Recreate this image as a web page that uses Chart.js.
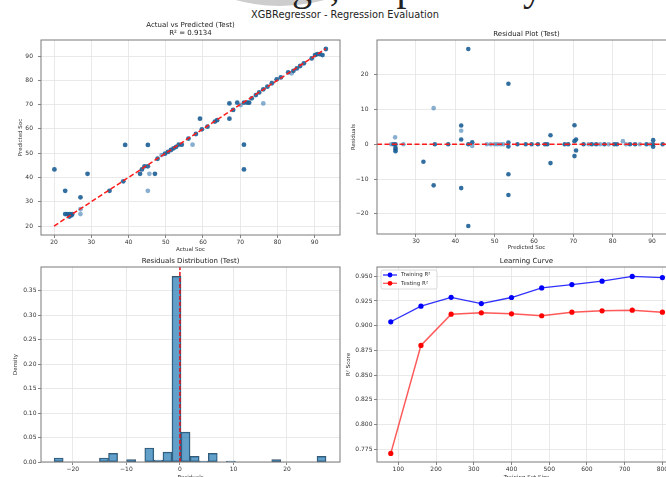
<!DOCTYPE html>
<html>
<head>
<meta charset="utf-8">
<script src="https://cdn.jsdelivr.net/npm/chart.js@4.4.1/dist/chart.umd.min.js"></script>
<style>
  html, body { margin: 0; padding: 0; background: #fff; width: 666px; height: 477px; overflow: hidden; }
  body { position: relative; font-family: 'DejaVu Sans', sans-serif; }
  canvas { position: absolute; }
  #blob { position: absolute; left: 114px; top: -326px; width: 332px; height: 332px; border-radius: 50%; background: #cdcdcd; }
  #pageText { position: absolute; left: 292px; top: -33px; font: 40px/40px 'Liberation Serif', serif; color: #222; white-space: nowrap; }
  #suptitle { position: absolute; left: 0; width: 690px; top: 9px; text-align: center; font-size: 9.8px; line-height: 12px; color: #222; }
</style>
</head>
<body>
<div id="blob"></div>
<div id="pageText">ge, respectively</div>
<div id="suptitle">XGBRegressor - Regression Evaluation</div>
<canvas id="scatterChart" width="345" height="240" style="left:0;top:20px"></canvas>
<canvas id="residualChart" width="345" height="239" style="left:341px;top:20px"></canvas>
<canvas id="histChart" width="345" height="235" style="left:0;top:250px"></canvas>
<canvas id="curveChart" width="345" height="235" style="left:341px;top:250px"></canvas>
<script>
// Actual vs Predicted: [actual, predicted]; "stacked" = several test rows on the same spot
const avpStacked = [
  [20.1, 43.3], [23.0, 34.5], [23.0, 24.9], [23.6, 24.9], [24.3, 24.9], [24.9, 24.9], [24.1, 23.9], [24.7, 24.4],
  [27.1, 31.8], [29.0, 41.5], [34.9, 34.5], [38.6, 38.4], [39.1, 53.4], [43.1, 41.5], [43.6, 43.3], [44.3, 44.6],
  [45.2, 53.4], [45.2, 44.6], [47.1, 41.5], [47.8, 47.7], [49.8, 49.8], [50.6, 50.5], [51.4, 51.3], [52.1, 52.0],
  [52.8, 52.6], [53.5, 53.5], [54.3, 53.5], [56.1, 56.0], [58.1, 57.9], [59.2, 64.2], [59.7, 59.8], [61.2, 60.9],
  [63.2, 63.0], [63.8, 63.6], [67.1, 70.5], [67.1, 64.2], [68.1, 67.8], [69.2, 70.8], [71.0, 70.8], [71.0, 53.5],
  [71.0, 43.3], [71.9, 70.8], [72.4, 70.8], [73.1, 72.6], [74.2, 73.9], [75.1, 75.0], [76.2, 76.3], [77.3, 77.4],
  [78.5, 78.8], [79.8, 80.4], [80.9, 81.2], [82.9, 83.3], [84.3, 83.9], [85.2, 84.9], [86.1, 85.9], [87.1, 87.0],
  [89.2, 89.0], [90.1, 90.4], [90.7, 90.8], [91.4, 90.8], [92.1, 90.4], [93.0, 92.9]
];
const avpSingle = [
  [27.1, 26.9], [27.1, 24.9], [45.2, 34.5], [45.6, 41.5], [48.9, 49.2], [57.2, 53.5], [70.1, 69.8], [76.2, 70.5], [83.8, 82.9]
];
const idealRange = [20, 93];
const avpTicks = [20, 30, 40, 50, 60, 70, 80, 90];

// Residual plot: [predicted, residual]
const resStacked = [
  [24.3, 0], [24.8, 0], [24.8, -1.0], [24.8, -1.5], [24.8, -2.0], [31.9, -5.0], [34.8, 0], [34.5, -11.8],
  [38.2, 0], [41.5, 5.4], [41.5, 1.4], [41.5, -12.6], [43.3, 27.4], [43.3, -23.5], [43.3, 0], [44.3, 0.6],
  [53.5, 17.4], [53.5, 0.5], [53.5, -0.6], [53.5, -8.6], [53.5, -14.6], [55.8, 0], [57.9, 0], [59.4, 0],
  [61.0, 0], [62.8, 0], [63.4, 0], [64.2, 2.6], [64.2, -5.4], [67.8, 0], [68.7, 0], [70.3, 5.5], [70.3, 0.9],
  [70.3, -3.4], [70.7, 1.4], [70.7, -1.8], [72.6, 0], [74.7, 0], [75.8, 0], [77.9, 0], [80.4, 0], [81.1, 0],
  [84.4, 0], [85.7, 0], [88.6, 0], [90.3, 1.2], [90.3, -0.7], [90.3, 0], [92.7, 0]
];
const resSingle = [
  [23.7, 0], [24.7, 2.0], [26.8, 0], [34.5, 10.4], [41.5, 3.9], [44.3, -0.5], [48.0, 0], [49.0, 0], [50.0, 0],
  [50.7, 0], [51.5, 0], [52.2, 0], [73.9, 0], [76.8, 0], [79.0, 0], [82.6, 0.9], [83.4, 0], [86.9, 0], [89.6, 0]
];
const resXTicks = [30, 40, 50, 60, 70, 80, 90];
const resYTicks = [-20, -10, 0, 10, 20];

// Residuals histogram: bin centres and density
const binCenters = [-22.65, -20.96, -19.27, -17.57, -15.88, -14.19, -12.49, -10.80, -9.11, -7.41,
  -5.72, -4.03, -2.33, -0.64, 1.05, 2.75, 4.44, 6.13, 7.83, 9.52,
  11.21, 12.91, 14.60, 16.29, 17.99, 19.68, 21.37, 23.07, 24.76, 26.45];
const binDensity = [0.0082, 0, 0, 0, 0, 0.0082, 0.0177, 0, 0.0048, 0,
  0.0286, 0.0041, 0.0204, 0.3788, 0.0612, 0.0116, 0.0020, 0.0177, 0, 0.0020,
  0, 0, 0, 0, 0.0048, 0, 0, 0, 0, 0.0116];
const histXTicks = [-20, -10, 0, 10, 20];
const histYTicks = [0, 0.05, 0.10, 0.15, 0.20, 0.25, 0.30, 0.35];

// Learning curve
const trainSizes = [80, 160, 240, 320, 400, 480, 560, 640, 720, 800];
const trainR2 = [0.9039, 0.9197, 0.9287, 0.9224, 0.9285, 0.9382, 0.9416, 0.9450, 0.9499, 0.9487];
const testR2 = [0.7706, 0.8800, 0.9116, 0.9130, 0.9120, 0.9100, 0.9136, 0.9150, 0.9157, 0.9136];
const curveXTicks = [100, 200, 300, 400, 500, 600, 700, 800];
const curveYTicks = [0.775, 0.800, 0.825, 0.850, 0.875, 0.900, 0.925, 0.950];

Chart.defaults.font.family = "'DejaVu Sans', sans-serif";
Chart.defaults.animation = false;
Chart.defaults.events = [];
Chart.defaults.plugins.legend.display = false;
Chart.defaults.plugins.tooltip.enabled = false;

const dotDark = 'rgba(28, 95, 150, 0.9)';
const dotLight = 'rgba(40, 110, 170, 0.55)';
const minus = v => String(v).replace('-', '\u2212');

// matplotlib-like box around the axes
const frame = {
    id: 'frame',
    afterDatasetsDraw(chart) {
        const { ctx, chartArea: a } = chart;
        ctx.save();
        ctx.strokeStyle = '#7a7a7a';
        ctx.lineWidth = 1;
        ctx.strokeRect(a.left, a.top, a.right - a.left, a.bottom - a.top);
        ctx.restore();
    }
};

function axis(o) {
    const horizontal = o.pos === 'x';
    return {
        type: 'linear',
        min: o.min,
        max: o.max,
        offset: false,
        grid: { color: '#e3e3e3', lineWidth: 0.8, offset: false, drawTicks: true, tickLength: 3, tickColor: '#666' },
        border: { display: false },
        ticks: {
            font: { size: 6 }, color: '#333', padding: o.pad, autoSkip: false, maxRotation: 0,
            callback: o.fmt
        },
        title: {
            display: true, text: o.title, color: '#333', font: { size: 5.5 },
            padding: horizontal ? { top: 0, bottom: o.titlePad } : { top: o.titlePad, bottom: 0 }
        },
        afterBuildTicks: s => { s.ticks = o.ticks.map(v => ({ value: v })); },
        afterFit: s => {
            if (horizontal) { s.height = o.size; s.paddingLeft = 0; s.paddingRight = 0; }
            else { s.width = o.size; s.paddingTop = 0; s.paddingBottom = 0; }
        }
    };
}

function title(text, top, bottom) {
    return {
        display: true, text: text, fullSize: false, color: '#222',
        font: { size: 7, weight: 'normal', lineHeight: 8 / 7 },
        padding: { top: top, bottom: bottom }
    };
}

const toXY = list => list.map(p => ({ x: p[0], y: p[1] }));

// 1. Actual vs Predicted
new Chart(document.getElementById('scatterChart'), {
    type: 'scatter',
    data: {
        datasets: [{
            data: idealRange.map(v => ({ x: v, y: v })),
            showLine: true, borderColor: '#ff1a1a', borderWidth: 1.5, borderDash: [5, 2.5], pointRadius: 0
        }, {
            data: toXY(avpStacked), backgroundColor: dotDark, borderWidth: 0, pointRadius: 2.4
        }, {
            data: toXY(avpSingle), backgroundColor: dotLight, borderWidth: 0, pointRadius: 2.4
        }]
    },
    options: {
        responsive: false,
        layout: { padding: { left: 0, right: 5, top: 0, bottom: 0 } },
        plugins: { title: title(['Actual vs Predicted (Test)', 'R\u00b2 = 0.9134'], 1, 3) },
        scales: {
            x: axis({ pos: 'x', min: 16.5, max: 96.8, ticks: avpTicks, fmt: minus, pad: 1, title: 'Actual Soc', titlePad: 7.2, size: 25 }),
            y: axis({ pos: 'y', min: 16.3, max: 96.6, ticks: avpTicks, fmt: minus, pad: 5, title: 'Predicted Soc', titlePad: 17.7, size: 41 })
        }
    },
    plugins: [frame]
});

// 2. Residual plot
const resXMin = 20.1, resXMax = 96.1;
new Chart(document.getElementById('residualChart'), {
    type: 'scatter',
    data: {
        datasets: [{
            data: [{ x: resXMin, y: 0 }, { x: resXMax, y: 0 }],
            showLine: true, borderColor: '#ff1a1a', borderWidth: 1.5, borderDash: [5, 2.5], pointRadius: 0
        }, {
            data: toXY(resStacked), backgroundColor: dotDark, borderWidth: 0, pointRadius: 2.3
        }, {
            data: toXY(resSingle), backgroundColor: dotLight, borderWidth: 0, pointRadius: 2.3
        }]
    },
    options: {
        responsive: false,
        layout: { padding: { left: 0, right: 10, top: 0, bottom: 0 } },
        plugins: { title: title('Residual Plot (Test)', 10, 2) },
        scales: {
            x: axis({ pos: 'x', min: resXMin, max: resXMax, ticks: resXTicks, fmt: minus, pad: 1, title: 'Predicted Soc', titlePad: 7.7, size: 25 }),
            y: axis({ pos: 'y', min: -25.8, max: 30.0, ticks: resYTicks, fmt: minus, pad: 5.5, title: 'Residuals', titlePad: 9.7, size: 36 })
        }
    },
    plugins: [frame]
});

// 3. Residuals distribution
const histYMax = 0.398;
new Chart(document.getElementById('histChart'), {
    type: 'bar',
    data: {
        datasets: [{
            type: 'line',
            data: [{ x: 0, y: 0 }, { x: 0, y: histYMax }],
            borderColor: '#e8101a', borderWidth: 1.5, borderDash: [4, 2], pointRadius: 0
        }, {
            data: binCenters.map((c, i) => ({ x: c, y: binDensity[i] })),
            backgroundColor: 'rgba(31, 119, 180, 0.7)',
            borderColor: '#3d5468', borderWidth: 0.8, borderSkipped: false,
            barPercentage: 1, categoryPercentage: 1
        }]
    },
    options: {
        responsive: false,
        layout: { padding: { left: 0, right: 5, top: 0, bottom: 0 } },
        plugins: { title: title('Residuals Distribution (Test)', 7, 2) },
        scales: {
            x: axis({ pos: 'x', min: -25.95, max: 29.9, ticks: histXTicks, fmt: minus, pad: 1, title: 'Residuals', titlePad: 4.2, size: 23 }),
            y: axis({ pos: 'y', min: 0, max: histYMax, ticks: histYTicks, fmt: v => v.toFixed(2), pad: 1.5, title: 'Density', titlePad: 12.7, size: 41 })
        }
    },
    plugins: [frame]
});

// 4. Learning curve, legend drawn inside the axes like matplotlib
const curveLegend = {
    id: 'curveLegend',
    afterDraw(chart) {
        const { ctx, chartArea } = chart;
        const x = chartArea.left + 4, y = chartArea.top + 3;
        ctx.save();
        ctx.fillStyle = 'rgba(255,255,255,0.85)';
        ctx.strokeStyle = '#d0d0d0';
        ctx.lineWidth = 0.8;
        ctx.beginPath();
        ctx.roundRect(x, y, 56, 19, 2);
        ctx.fill();
        ctx.stroke();
        chart.data.datasets.forEach((ds, i) => {
            const cy = y + 5 + i * 8.3;
            ctx.strokeStyle = ds.borderColor;
            ctx.lineWidth = 1.3;
            ctx.beginPath();
            ctx.moveTo(x + 2, cy);
            ctx.lineTo(x + 16, cy);
            ctx.stroke();
            ctx.fillStyle = ds.pointBackgroundColor;
            ctx.beginPath();
            ctx.arc(x + 9, cy, 2.4, 0, Math.PI * 2);
            ctx.fill();
            ctx.fillStyle = '#333';
            ctx.font = "5.5px 'DejaVu Sans'";
            ctx.textBaseline = 'middle';
            ctx.fillText(ds.label, x + 20, cy);
        });
        ctx.restore();
    }
};

new Chart(document.getElementById('curveChart'), {
    type: 'line',
    data: {
        datasets: [{
            label: 'Training R\u00b2',
            data: trainSizes.map((s, i) => ({ x: s, y: trainR2[i] })),
            borderColor: 'rgba(25, 25, 255, 0.9)', borderWidth: 1.3,
            pointBackgroundColor: '#0000ff', pointBorderWidth: 0, pointRadius: 2.6
        }, {
            label: 'Testing R\u00b2',
            data: trainSizes.map((s, i) => ({ x: s, y: testR2[i] })),
            borderColor: 'rgba(255, 60, 60, 0.85)', borderWidth: 1.5,
            pointBackgroundColor: '#ff0000', pointBorderWidth: 0, pointRadius: 2.6
        }]
    },
    options: {
        responsive: false,
        layout: { padding: { left: 0, right: 10, top: 0, bottom: 0 } },
        plugins: { title: title('Learning Curve', 7, 2) },
        scales: {
            x: axis({ pos: 'x', min: 43.5, max: 836, ticks: curveXTicks, fmt: minus, pad: 1, title: 'Training Set Size', titlePad: 4.2, size: 23 }),
            y: axis({ pos: 'y', min: 0.7619, max: 0.9594, ticks: curveYTicks, fmt: v => v.toFixed(3), pad: 1.5, title: 'R\u00b2 Score', titlePad: 4.7, size: 36 })
        }
    },
    plugins: [frame, curveLegend]
});
</script>
</body>
</html>
